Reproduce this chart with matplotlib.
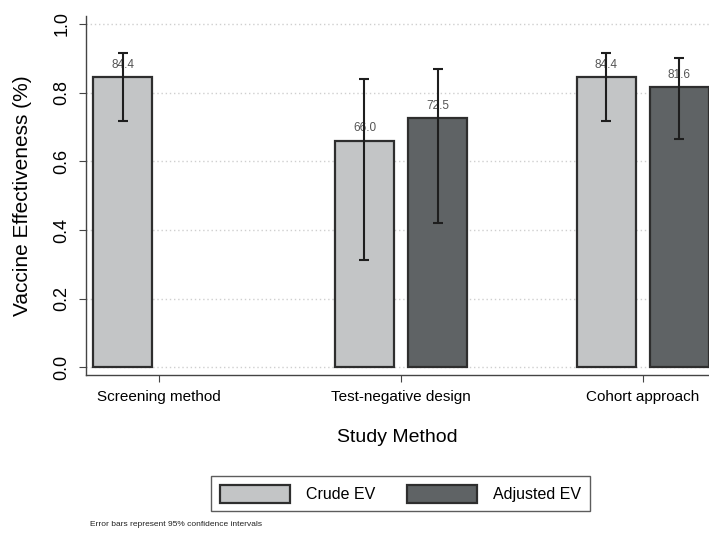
import numpy as np
import matplotlib
matplotlib.use('Agg')
import matplotlib.pyplot as plt

# Data
methods = ['Screening method', 'Test-negative design', 'Cohort approach']
crude_ev = [0.844, 0.660, 0.844]
crude_lo = [0.718, 0.313, 0.718]
crude_hi = [0.916, 0.840, 0.914]
adj_ev = [np.nan, 0.725, 0.816]
adj_lo = [np.nan, 0.420, 0.664]
adj_hi = [np.nan, 0.870, 0.900]

CRUDE_COLOR = '#c3c5c6'
ADJ_COLOR = '#5f6365'
EDGE = '#2e2e2e'

plt.rc('font', family='Liberation Sans')

fig = plt.figure(figsize=(7.09, 5.33), dpi=100)
ax = fig.add_axes([0.1213, 0.2964, 0.8787, 0.6736])

x = np.arange(len(methods))
off = 0.151
w = 0.244

# Crude bars
ax.bar(x - off, crude_ev, width=w, color=CRUDE_COLOR, edgecolor=EDGE,
       linewidth=1.6, zorder=2, label='Crude EV')
err_c = [np.array(crude_ev) - np.array(crude_lo), np.array(crude_hi) - np.array(crude_ev)]
ax.errorbar(x - off, crude_ev, yerr=err_c, fmt='none', ecolor='#1e1e1e',
            elinewidth=1.5, capsize=3.8, capthick=1.5, zorder=4)

# Adjusted bars (skip missing)
mask = ~np.isnan(adj_ev)
adj = np.array(adj_ev)[mask]
ax.bar(x[mask] + off, adj, width=w, color=ADJ_COLOR, edgecolor=EDGE,
       linewidth=1.6, zorder=2, label='Adjusted EV')
err_a = [adj - np.array(adj_lo)[mask], np.array(adj_hi)[mask] - adj]
ax.errorbar(x[mask] + off, adj, yerr=err_a, fmt='none', ecolor='#1e1e1e',
            elinewidth=1.5, capsize=3.8, capthick=1.5, zorder=4)

# Value labels above bars
for xi, v in zip(x - off, crude_ev):
    ax.text(xi, v + 0.036, f'{v*100:.1f}', ha='center', va='center',
            fontsize=8.5, color='#555555', zorder=3)
for xi, v in zip(x[mask] + off, adj):
    ax.text(xi, v + 0.036, f'{v*100:.1f}', ha='center', va='center',
            fontsize=8.5, color='#555555', zorder=3)

# Axes styling
ax.set_xlim(-0.302, 2.273)
ax.set_ylim(-0.022, 1.023)
ax.set_yticks([0.0, 0.2, 0.4, 0.6, 0.8, 1.0])
ax.set_yticklabels(['0.0', '0.2', '0.4', '0.6', '0.8', '1.0'], rotation=90, va='center')
ax.set_xticks(x)
ax.set_xticklabels(methods)
ax.tick_params(axis='y', labelsize=13, length=5, color='#444444', pad=6)
ax.tick_params(axis='x', labelsize=11, length=5, color='#444444', pad=6)
ax.grid(axis='y', linestyle=(0, (1, 2)), color='#cfcfcf', linewidth=1.0, zorder=0)
for s in ['top', 'right']:
    ax.spines[s].set_visible(False)
for s in ['left', 'bottom']:
    ax.spines[s].set_color('#444444')
    ax.spines[s].set_linewidth(1.0)

ax.set_ylabel('Vaccine Effectiveness (%)', fontsize=15, labelpad=16)
ax.set_xlabel('Study Method', fontsize=14, labelpad=18)

leg = fig.legend(loc='center', bbox_to_anchor=(0.565, 0.074), ncol=2,
                 fontsize=11.5, frameon=True, fancybox=False,
                 handlelength=4.4, handleheight=1.35, columnspacing=2.0,
                 borderpad=0.55, handletextpad=1.0)
leg.get_frame().set_edgecolor('#333333')
leg.get_frame().set_linewidth(1.0)

fig.text(0.127, 0.016, 'Error bars represent 95% confidence intervals',
         fontsize=6, ha='left', va='center', color='#222222')

fig.savefig('out.png', dpi=100)
